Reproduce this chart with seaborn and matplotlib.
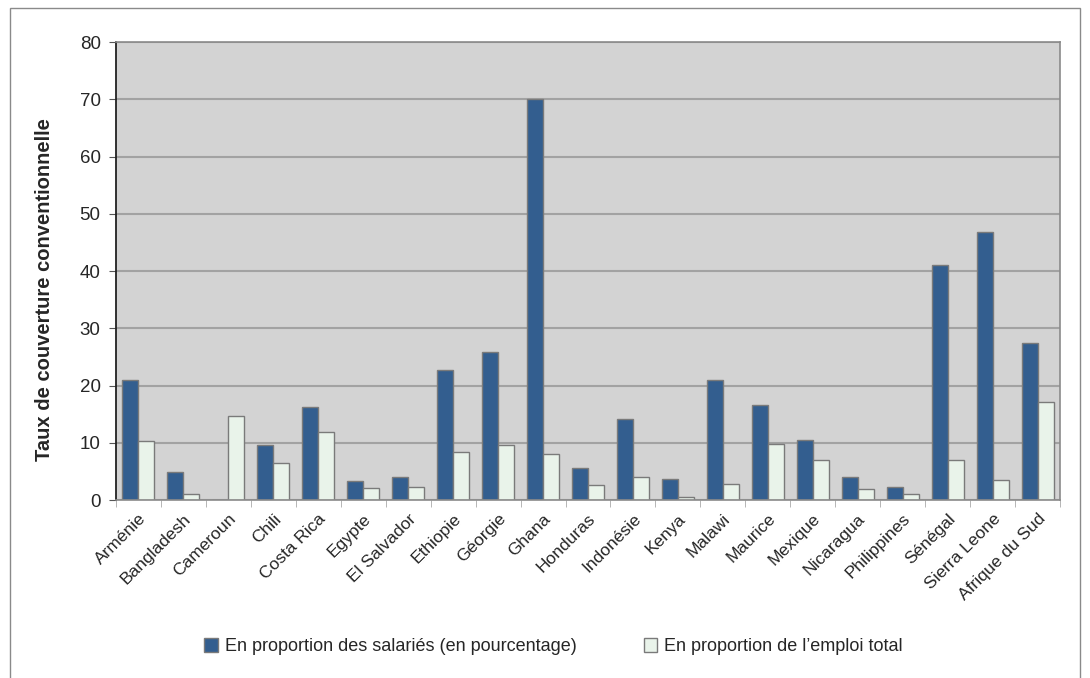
import pandas as pd
import seaborn as sns
import matplotlib.pyplot as plt
from matplotlib.patches import Rectangle

pays = ["Arménie", "Bangladesh", "Cameroun", "Chili", "Costa Rica", "Egypte",
        "El Salvador", "Ethiopie", "Géorgie", "Ghana", "Honduras", "Indonésie",
        "Kenya", "Malawi", "Maurice", "Mexique", "Nicaragua", "Philippines",
        "Sénégal", "Sierra Leone", "Afrique du Sud"]
salaries = [21.0, 4.9, 0.0, 9.6, 16.2, 3.3, 4.0, 22.7, 25.9, 70.0, 5.6, 14.1,
            3.7, 21.0, 16.6, 10.5, 4.0, 2.3, 41.0, 46.8, 27.4]
emploi = [10.3, 1.0, 14.7, 6.5, 11.9, 2.1, 2.3, 8.4, 9.6, 8.0, 2.6, 4.0,
          0.5, 2.8, 9.8, 7.0, 1.9, 1.0, 7.0, 3.5, 17.1]
series = ["En proportion des salariés (en pourcentage)",
          "En proportion de l’emploi total"]

df = pd.DataFrame({"pays": pays * 2,
                   "valeur": salaries + emploi,
                   "serie": [series[0]] * len(pays) + [series[1]] * len(pays)})

sns.set_style("white")
plt.rcParams["font.family"] = ["Liberation Sans", "DejaVu Sans"]

fig = plt.figure(figsize=(10.9, 6.78), dpi=100)
ax = fig.add_axes([0.1064, 0.2625, 0.8661, 0.6755])
ax.set_facecolor("#d3d3d3")

sns.barplot(data=df, x="pays", y="valeur", hue="serie", order=pays,
            hue_order=series, palette=["#335e8f", "#e9f3ea"], saturation=1,
            width=0.71, edgecolor="#7a7a7a", linewidth=1.0, ax=ax,
            legend=True)

ax.set_ylim(0, 80)
ax.set_xlim(-0.5, len(pays) - 0.5)
ax.set_yticks(range(0, 81, 10))
ax.yaxis.grid(True, color="#a2a2a2", linewidth=1.5)
ax.set_axisbelow(True)
ax.tick_params(axis="y", labelsize=13.5, length=5, direction="out",
               left=True, color="#555555", pad=6)
ax.set_xticks(range(len(pays)))
ax.set_xticklabels(pays, rotation=45, ha="right", rotation_mode="anchor",
                   fontsize=12.5)
ax.tick_params(axis="x", length=0, pad=8)
ax.set_xticks([i - 0.5 for i in range(len(pays) + 1)], minor=True)
ax.tick_params(axis="x", which="minor", length=5, color="#aaaaaa",
               direction="out", bottom=True)
ax.set_xlabel("")
ax.set_ylabel("Taux de couverture conventionnelle", fontsize=14.5,
              fontweight="bold")
ax.yaxis.set_label_coords(-0.066, 0.46)
for side in ["top", "right", "bottom"]:
    ax.spines[side].set_color("#8a8a8a")
    ax.spines[side].set_linewidth(1.2)
ax.spines["left"].set_color("#222222")
ax.spines["left"].set_linewidth(1.3)

handles, labels = ax.get_legend_handles_labels()
ax.get_legend().remove()
fig.legend(handles, labels, loc="center", bbox_to_anchor=(0.508, 0.046),
           ncol=2, frameon=False, fontsize=13, handlelength=0.75,
           handleheight=0.75, handletextpad=0.4, columnspacing=3.7)

fig.patches.append(Rectangle((0.009, -0.01), 0.982, 0.998,
                             transform=fig.transFigure, fill=False,
                             edgecolor="#8a8a8a", linewidth=1.0))

fig.savefig("out.png", dpi=100, facecolor="white")
